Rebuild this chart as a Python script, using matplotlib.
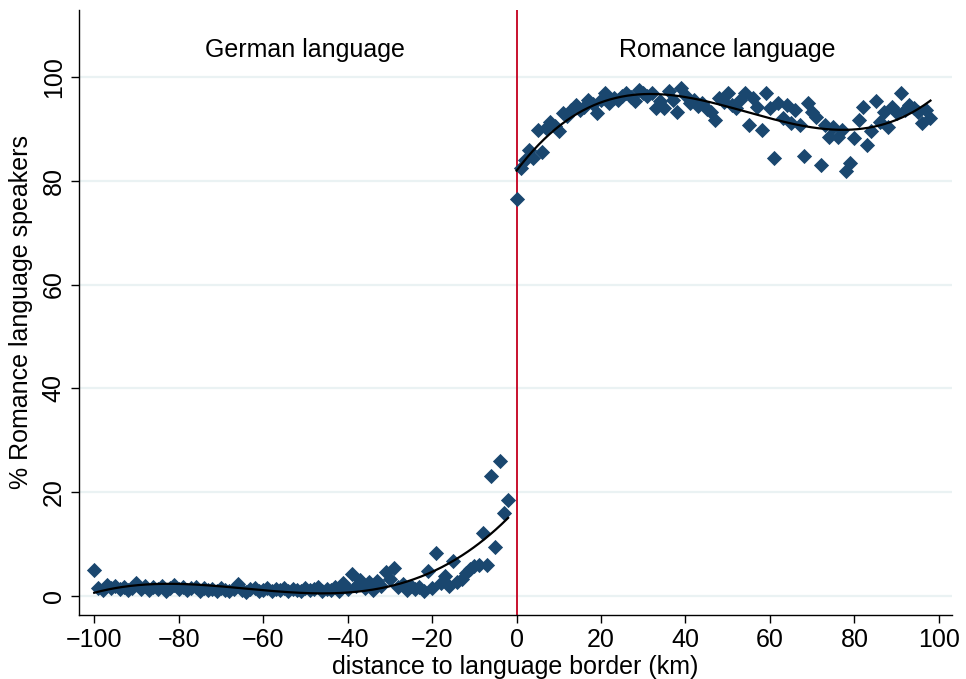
import numpy as np
import matplotlib
matplotlib.use("Agg")
import matplotlib.pyplot as plt

plt.rcParams['font.family'] = ['Liberation Sans', 'DejaVu Sans']

# ---- data (binned means, 1 km bins) ----
left_x = list(range(-100, -1))
left_y = [5.0, 1.6, 1.2, 2.2, 1.5, 2.0, 1.3, 1.8, 1.1, 1.6,
          2.5, 1.4, 2.0, 1.2, 1.7, 1.4, 1.9, 1.0, 1.5, 2.2,
          1.3, 1.7, 1.1, 1.5, 1.8, 1.0, 1.6, 1.2, 1.4, 1.0,
          1.5, 1.2, 0.9, 1.4, 2.3, 1.1, 0.8, 1.3, 1.6, 1.0,
          1.2, 1.5, 0.9, 1.3, 1.1, 1.6, 1.0, 1.4, 1.2, 0.9,
          1.5, 1.1, 1.3, 1.8, 1.0, 1.4, 1.2, 1.7, 1.0, 2.5,
          1.3, 4.3, 2.0, 3.0, 1.5, 2.6, 1.2, 2.8, 1.9, 4.6,
          3.2, 5.4, 1.8, 2.4, 1.1, 2.0, 1.3, 1.7, 1.0, 4.9,
          1.6, 8.3, 2.5, 3.9, 2.0, 6.8, 2.6, 3.2, 4.4, 5.2,
          5.8, 6.0, 12.1, 5.9, 23.2, 9.4, 26.0, 16.0, 18.5]

right_x = list(range(0, 99))
right_y = [76.4, 82.4, 84.0, 85.9, 84.4, 89.8, 85.6, 90.1, 91.4, 90.5,
           89.5, 93.0, 92.4, 93.6, 94.6, 93.6, 94.2, 95.6, 94.8, 93.0,
           95.6, 96.9, 94.9, 95.9, 95.6, 96.3, 96.9, 96.2, 95.4, 97.5,
           96.9, 96.4, 96.9, 94.0, 95.3, 94.0, 97.2, 95.5, 93.3, 97.8,
           96.5, 95.0, 95.6, 94.4, 94.9, 93.8, 93.2, 91.7, 95.9, 95.2,
           96.9, 94.6, 94.0, 95.5, 96.9, 90.8, 95.9, 94.3, 89.8, 96.9,
           94.0, 84.3, 94.9, 92.0, 94.6, 91.1, 93.6, 90.8, 84.7, 94.9,
           93.3, 92.2, 83.0, 90.8, 88.5, 90.4, 88.5, 89.8, 81.8, 83.4,
           88.2, 91.7, 94.3, 86.9, 89.5, 95.3, 91.4, 93.3, 90.4, 94.3,
           93.0, 96.9, 93.6, 94.6, 94.0, 93.3, 91.1, 93.6, 92.0]

x_ticks = [-100, -80, -60, -40, -20, 0, 20, 40, 60, 80, 100]
y_ticks = [0, 20, 40, 60, 80, 100]
side_labels = ["German language", "Romance language"]
side_pos = [-50, 50]

navy = '#1a476f'
red = '#c8102e'
grid_c = '#eaf2f3'
fs = 18

fig = plt.figure(figsize=(9.66, 6.79), dpi=100)
ax = fig.add_axes([0.0818, 0.0943, 0.9037, 0.891])

ax.set_xlim(-103.6, 103.1)
ax.set_ylim(-3.66, 112.9)

for yt in y_ticks:
    ax.axhline(yt, color=grid_c, lw=1.6, zorder=0)

ax.axvline(0, color=red, lw=1.4, zorder=1)

ax.scatter(left_x, left_y, marker='D', s=60, color=navy, linewidths=0, zorder=2)
ax.scatter(right_x, right_y, marker='D', s=60, color=navy, linewidths=0, zorder=2)

# polynomial fits on each side
lx = np.array(left_x, float); ly = np.array(left_y, float)
rx = np.array(right_x, float); ry = np.array(right_y, float)
pl = np.polyfit(lx, ly, 3)
pr = np.polyfit(rx, ry, 3)
gl = np.linspace(lx.min(), lx.max(), 300)
gr = np.linspace(rx.min(), rx.max(), 300)
ax.plot(gl, np.polyval(pl, gl), color='black', lw=1.6, zorder=3)
ax.plot(gr, np.polyval(pr, gr), color='black', lw=1.6, zorder=3)

for lab, xp in zip(side_labels, side_pos):
    ax.text(xp, 105.2, lab, ha='center', va='center', fontsize=fs)

ax.set_xticks(x_ticks)
ax.set_yticks(y_ticks)
ax.tick_params(axis='both', labelsize=fs, length=6, width=1, direction='out', color='black')
ax.tick_params(axis='y', labelrotation=90)
for lbl in ax.get_yticklabels():
    lbl.set_va('center')

ax.spines['top'].set_visible(False)
ax.spines['right'].set_visible(False)
ax.spines['left'].set_linewidth(1)
ax.spines['bottom'].set_linewidth(1)

ax.set_xlabel("distance to language border (km)", fontsize=fs, labelpad=2)
ax.set_ylabel("% Romance language speakers", fontsize=fs, labelpad=6)

fig.savefig("out.png", dpi=100)
